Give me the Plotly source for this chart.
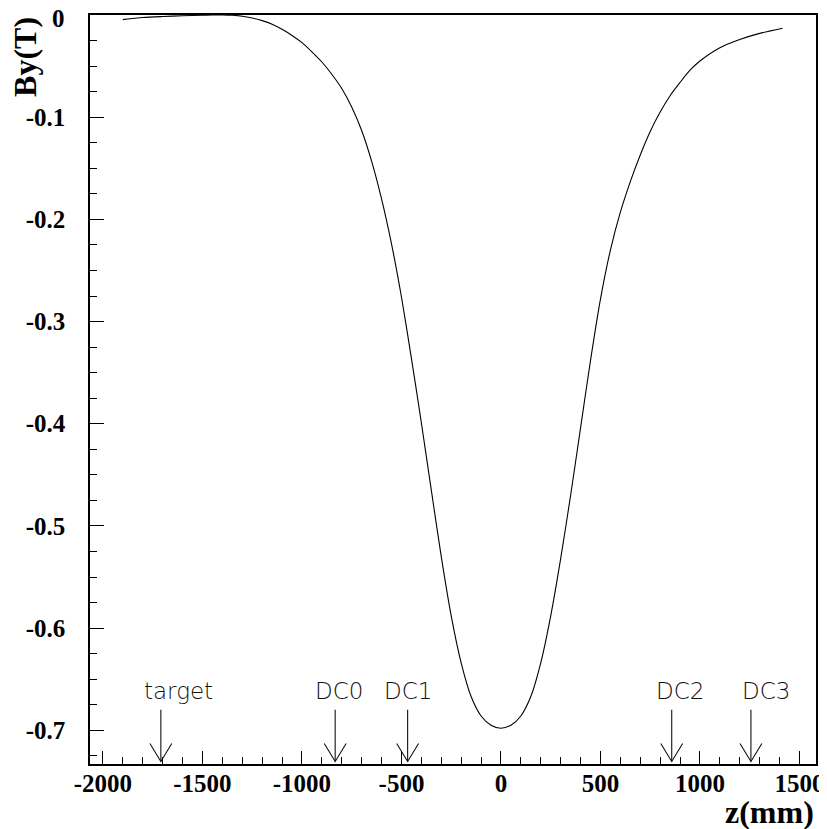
import plotly.graph_objects as go

# Field map: By (T) vs z (mm)
z_mm = [-1900, -1800, -1700, -1600, -1500, -1450, -1400, -1350, -1300, -1250,
        -1200, -1150, -1100, -1050, -1000, -950, -900, -850, -800, -750,
        -700, -650, -600, -550, -500, -450, -400, -350, -300, -250,
        -200, -150, -100, -50, 0, 50, 100, 150, 200, 250,
        300, 350, 400, 450, 500, 550, 600, 650, 700, 750,
        800, 850, 900, 950, 1000, 1100, 1200, 1300, 1415]
by_T = [-0.0045, -0.0025, -0.0015, -0.0008, -0.0003, 0.0, 0.0, -0.0003, -0.0012, -0.003,
        -0.0055, -0.009, -0.014, -0.020, -0.027, -0.036, -0.046, -0.058, -0.072, -0.090,
        -0.113, -0.143, -0.180, -0.224, -0.276, -0.336, -0.399, -0.465, -0.530, -0.588,
        -0.634, -0.667, -0.686, -0.695, -0.698, -0.695, -0.686, -0.667, -0.634, -0.588,
        -0.532, -0.470, -0.404, -0.338, -0.278, -0.230, -0.193, -0.163, -0.137, -0.114,
        -0.095, -0.079, -0.066, -0.054, -0.045, -0.032, -0.024, -0.018, -0.013]

# Detector markers
det_names = ["target", "DC0", "DC1", "DC2", "DC3"]
det_z = [-1709, -833, -469, 858, 1256]
label_z = [-1618, -814, -467, 902, 1332]

x_ticks = [-2000, -1500, -1000, -500, 0, 500, 1000, 1500]
y_ticks = [0, -0.1, -0.2, -0.3, -0.4, -0.5, -0.6, -0.7]
y_ticktext = ["0", "-0.1", "-0.2", "-0.3", "-0.4", "-0.5", "-0.6", "-0.7"]

# style constants
arrow_top, arrow_tip = -0.680, -0.7305
head_dz, head_dy = 55, 0.0176
label_y = -0.662
tick_font = dict(family="Liberation Serif", size=25, color="black", weight="bold")

fig = go.Figure()
fig.add_trace(go.Scatter(x=z_mm, y=by_T, mode="lines",
                         line=dict(color="black", width=1.1, shape="spline", smoothing=0.8),
                         hoverinfo="skip", showlegend=False))

for zz in det_z:
    fig.add_trace(go.Scatter(x=[zz, zz, None, zz - head_dz, zz, zz + head_dz],
                             y=[arrow_top, arrow_tip, None, arrow_tip + head_dy, arrow_tip, arrow_tip + head_dy],
                             mode="lines", line=dict(color="#111", width=1.1),
                             hoverinfo="skip", showlegend=False))

for name, lz in zip(det_names, label_z):
    fig.add_annotation(x=lz, y=label_y, text=name, showarrow=False,
                       xanchor="center", yanchor="middle",
                       font=dict(family="DejaVu Sans", size=23, color="#111", weight=200))

# the top "0" label sits a touch lower so it is not clipped by the page edge
fig.add_annotation(xref="paper", yref="y", x=-0.0317, y=y_ticks[0], text=y_ticktext[0],
                   showarrow=False, xanchor="right", yanchor="middle", yshift=-3,
                   font=tick_font)

fig.add_annotation(xref="paper", yref="paper", x=1.0, y=-0.064, text="<b>z(mm)</b>",
                   showarrow=False, xanchor="right", yanchor="middle",
                   font=dict(family="Liberation Serif", size=32, color="black"))
fig.add_annotation(xref="paper", yref="paper", x=-0.0895, y=0.944, text="<b>By(T)</b>",
                   showarrow=False, xanchor="center", yanchor="middle", textangle=-90,
                   font=dict(family="Liberation Serif", size=32, color="black"))

# page body has an 8px default margin, so the figure is sized to fit the window
fig.update_layout(
    width=819, height=821,
    margin=dict(l=82, r=11, t=7, b=65, autoexpand=False),
    paper_bgcolor="white", plot_bgcolor="white",
    showlegend=False,
)
fig.update_xaxes(range=[-2065, 1583], showgrid=False, zeroline=False, automargin=False,
                 showline=True, linecolor="black", linewidth=1.5, mirror=True,
                 ticks="inside", ticklen=13, tickwidth=1, tickcolor="black",
                 tickvals=x_ticks, ticktext=[str(v) for v in x_ticks],
                 minor=dict(dtick=100, tick0=0, ticks="inside", ticklen=7, tickcolor="black"),
                 ticklabelstandoff=-4, ticklabeloverflow="allow",
                 tickfont=tick_font)
fig.update_yaxes(range=[-0.733, 0.0], showgrid=False, zeroline=False, automargin=False,
                 showline=True, linecolor="black", linewidth=1.5, mirror=True,
                 ticks="inside", ticklen=14, tickwidth=1, tickcolor="black",
                 tickvals=y_ticks, ticktext=[""] + y_ticktext[1:],
                 minor=dict(dtick=0.025, tick0=0, ticks="inside", ticklen=7, tickcolor="black"),
                 ticklabelstandoff=18, ticklabeloverflow="allow",
                 tickfont=tick_font)

fig.write_html("out.html")
